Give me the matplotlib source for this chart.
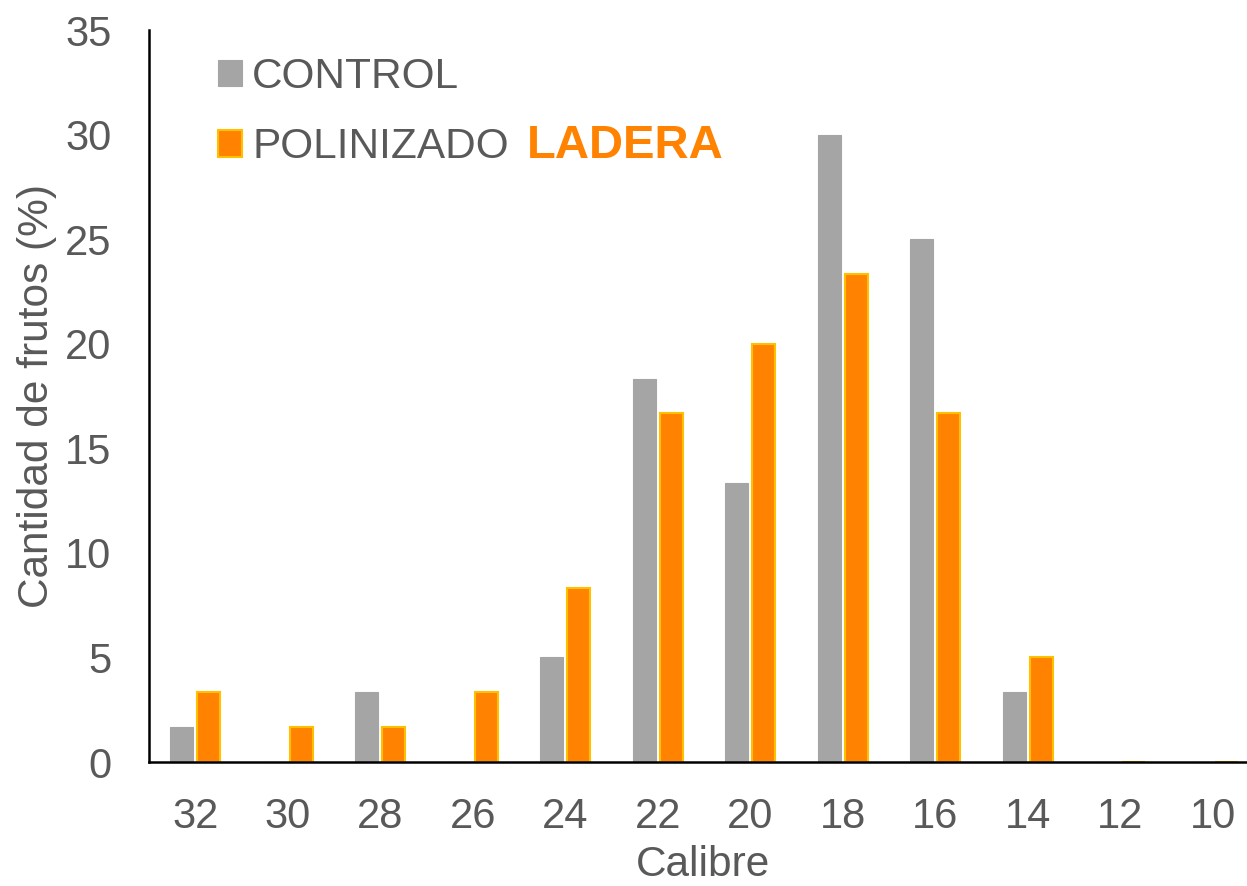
import matplotlib
matplotlib.use("Agg")
import matplotlib.pyplot as plt
import numpy as np

categories = ["32", "30", "28", "26", "24", "22", "20", "18", "16", "14", "12", "10"]
control = [1.67, 0, 3.33, 0, 5.0, 18.33, 13.33, 30.0, 25.0, 3.33, 0, 0]
polinizado = [3.33, 1.67, 1.67, 3.33, 8.33, 16.67, 20.0, 23.33, 16.67, 5.0, 0, 0]
yticks = [0, 5, 10, 15, 20, 25, 30, 35]

plt.rcParams['font.family'] = ['Liberation Sans', 'DejaVu Sans']
txt = '#595959'

fig = plt.figure(figsize=(12.47, 8.86), dpi=100)
ax = fig.add_axes([149/1247, 1-762/886, 1-149/1247, (762-30)/886])

x = np.arange(len(categories))
w = 0.25
ax.bar(x - 0.145, control, width=w, color='#A5A5A5', edgecolor='#A5A5A5', linewidth=0.8, label='CONTROL', zorder=2)
ax.bar(x + 0.145, polinizado, width=w, color='#FF8200', edgecolor='#FFC000', linewidth=1.5, label='POLINIZADO', zorder=2)

ax.set_xlim(-0.5, 11.37)
ax.set_ylim(0, 35)
ax.set_yticks(yticks)
ax.set_xticks(x)
ax.set_xticklabels(categories)
ax.tick_params(axis='both', length=0, labelsize=30, colors=txt)
ax.tick_params(axis='x', pad=25)
ax.tick_params(axis='y', pad=27)
for s in ['top', 'right']:
    ax.spines[s].set_visible(False)
for s in ['left', 'bottom']:
    ax.spines[s].set_color('black')
    ax.spines[s].set_linewidth(1.8)

ax.set_ylabel('Cantidad de frutos (%)', fontsize=30.5, color=txt)
ax.yaxis.set_label_coords(-0.084, 0.5)
ax.set_xlabel('Calibre', fontsize=30.5, color=txt)
ax.xaxis.set_label_coords(0.505, -0.1135)

leg = ax.legend(loc='upper left', bbox_to_anchor=(201/1247, 1-40/886), bbox_transform=fig.transFigure,
                frameon=False, fontsize=30.5, handlelength=0.57, handleheight=0.57, handletextpad=0.24,
                labelspacing=0.72, borderaxespad=0)
for t in leg.get_texts():
    t.set_color(txt)

fig.text(527/1247, 1-146/886, 'LADERA', fontsize=34, fontweight='bold', color='#FF8200', va='center', ha='left')

fig.savefig('out.png', dpi=100)
